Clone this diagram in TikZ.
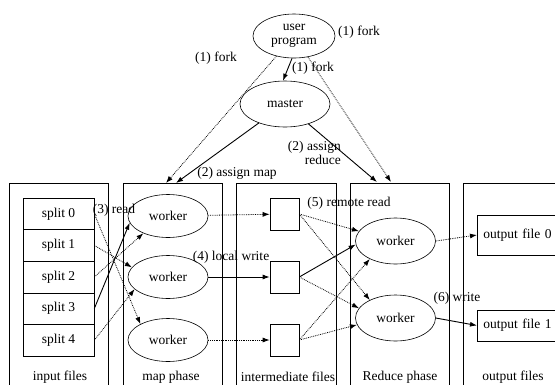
\documentclass[tikz,border=0pt]{standalone}
\usepackage{fontspec}
\setmainfont{Liberation Serif}
\usetikzlibrary{arrows.meta,shapes.geometric}

\begin{document}
\begin{tikzpicture}[x=1pt,y=-1pt,
  font=\rmfamily\fontsize{13.5}{14}\selectfont,
  every node/.style={inner sep=0pt},
  tip/.style={-{Latex[length=7pt,width=5pt]}},
  dotline/.style={densely dotted, line width=0.8pt},
  solidline/.style={line width=0.9pt},
  panel/.style={draw, line width=0.6pt},
  proc/.style={draw, ellipse, line width=0.6pt, minimum width=80pt, minimum height=44pt},
  splitbox/.style={draw, rectangle, line width=0.6pt, minimum width=71pt, minimum height=31.6pt},
  filebox/.style={draw, rectangle, line width=0.6pt, minimum width=29pt, minimum height=32pt},
  outbox/.style={draw, rectangle, line width=0.6pt, text width=88pt, inner xsep=6pt,
    align=left, anchor=west}]
\useasboundingbox (0,0) rectangle (555,384);
\clip (0,0) rectangle (555,384);

% phase panels
\draw[panel] (9,183) rectangle (108,400);
\draw[panel] (123,183) rectangle (222,400);
\draw[panel] (236,183) rectangle (336,400);
\draw[panel] (350,183) rectangle (449,400);
\draw[panel] (463,183) rectangle (570,400);
\node (pin)  at (60,377)  {input files};
\node (pmap) at (171,377) {map phase};
\node (pint) at (288,377) {intermediate files};
\node (pred) at (400,377) {Reduce phase};
\node (pout) at (513,377) {output files};

% coordinator processes
\node[proc, minimum width=82pt, align=center] (user) at (294,36) {user\\program};
\node[proc, minimum width=90pt, minimum height=46pt] (master) at (285,104) {master};

% input splits
\foreach \i in {0,...,4}
  \node[splitbox] (s\i) at (58.5,{198+31.6*(\i+0.5)}) {split \i};

% map workers
\node[proc, minimum height=43pt] (m0) at (168,216) {worker};
\node[proc, minimum height=43pt] (m1) at (168,277) {worker};
\node[proc, minimum height=43pt] (m2) at (168,340) {worker};

% intermediate files
\node[filebox] (f0) at (284.5,214) {};
\node[filebox] (f1) at (284.5,277) {};
\node[filebox] (f2) at (284.5,340) {};

% reduce workers
\node[proc, minimum height=46pt] (r0) at (395.5,241) {worker};
\node[proc, minimum height=46pt] (r1) at (395.5,318) {worker};

% output files (boxes run past the right edge)
\node[outbox, minimum height=40pt] (o0) at (477,235) {output file 0};
\node[outbox, minimum height=31pt] (o1) at (477,325.5) {output file 1};

% entry points on the panel tops
\coordinate (mapA) at (166,183);
\coordinate (mapB) at (176,183);
\coordinate (redA) at (377,182);
\coordinate (redB) at (391,182);

% (1) fork
\draw[dotline, tip] (user) -- (mapA);
\draw[dotline, tip] (user) -- (redB);
\draw[solidline, tip] (user.265) -- (master.95);
\node (fork1) at (216,58) {(1) fork};
\node (fork2) at (359,32) {(1) fork};
\node (fork3) at (313,68) {(1) fork};

% (2) assign
\draw[solidline, tip] (master) -- (mapB);
\draw[solidline, tip] (master) -- (redA);
\node (asgm) at (237,173) {(2) assign map};
\node[align=right, anchor=east] (asgr) at (341,153) {(2) assign\\reduce};

% (3) read
\draw[dotline, tip] (s0.east) -- (m2.150);
\draw[dotline, tip] (s1.east) -- (m1.165);
\draw[dotline, tip] (s2.east) -- (m0.215);
\draw[solidline, tip] (s3.east) -- (m0.190);
\draw[dotline, tip] (s4.east) -- (m1.200);
\node (rd) at (114,210) {(3) read};

% (4) local write
\draw[dotline, tip] (m0) -- (f0);
\draw[solidline, tip] (m1) -- (f1);
\draw[dotline, tip] (m2) -- (f2);
\node (lw) at (231,257) {(4) local write};

% (5) remote read
\draw[dotline, tip] (f0.east) -- (r0.165);
\draw[dotline, tip] (f0.east) -- (r1.145);
\draw[solidline, tip] (f1.east) -- (r0.185);
\draw[dotline, tip] (f1.east) -- (r1.165);
\draw[dotline, tip] (f2.east) -- (r0.215);
\draw[dotline, tip] (f2.east) -- (r1.190);
\node (rr) at (349,203) {(5) remote read};

% (6) write
\draw[dotline, tip] (r0.east) -- (o0.west);
\draw[solidline, tip] (r1.east) -- (o1.west);
\node (wr) at (457,298) {(6) write};
\end{tikzpicture}
\end{document}
